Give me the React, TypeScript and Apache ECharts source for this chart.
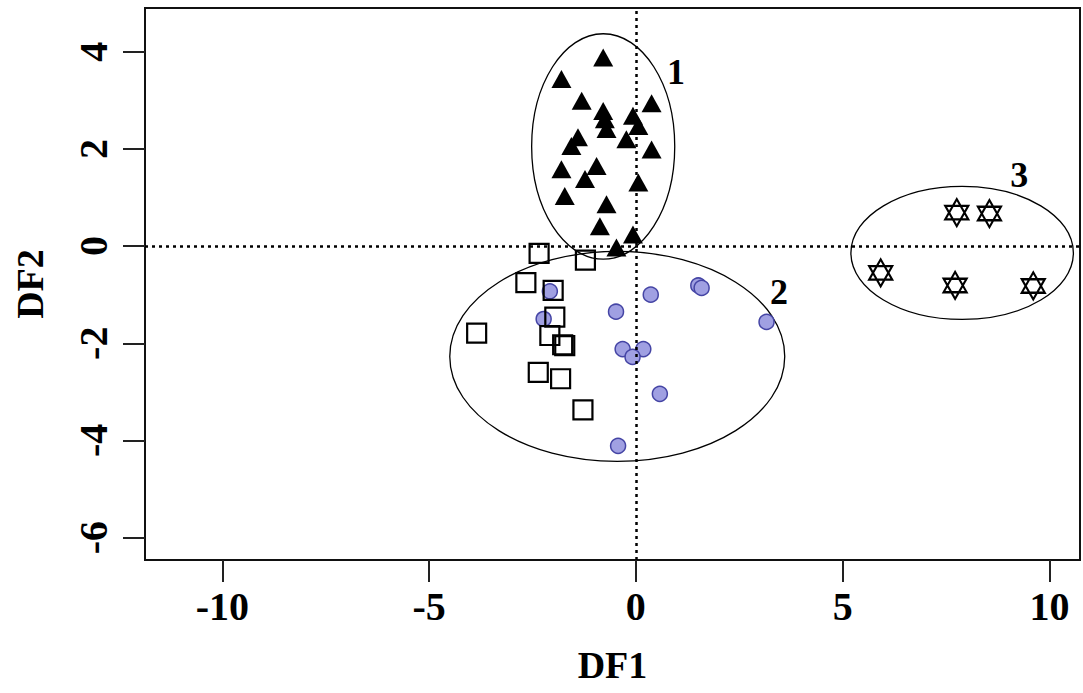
import React, { useEffect, useRef } from "react";
import * as echarts from "echarts";

// Group A (triangles) : [DF1, DF2]
const groupTriangles: number[][] = [
  [-0.79, 3.88], [-1.8, 3.44], [0.38, 2.94], [-1.31, 2.99], [-0.79, 2.78],
  [-0.75, 2.61], [-0.71, 2.41], [-0.07, 2.68], [0.06, 2.47], [-0.23, 2.2],
  [-1.4, 2.24], [-1.56, 2.06], [0.38, 1.99], [-1.8, 1.58], [-0.95, 1.65],
  [-1.23, 1.38], [0.06, 1.31], [-1.72, 1.03], [-0.71, 0.86], [-0.87, 0.41],
  [-0.07, 0.24], [-0.47, -0.03],
];
// Group B (open squares)
const groupSquares: number[][] = [
  [-2.34, -0.15], [-1.22, -0.29], [-2.66, -0.75], [-2.0, -0.91], [-3.85, -1.79],
  [-1.96, -1.46], [-2.08, -1.84], [-1.72, -2.05], [-1.77, -2.03], [-2.36, -2.6],
  [-1.82, -2.73], [-1.28, -3.37],
];
// Group C (blue circles)
const groupCircles: number[][] = [
  [-2.08, -0.93], [-2.23, -1.5], [0.36, -1.0], [-0.48, -1.35], [1.51, -0.81],
  [1.59, -0.86], [3.16, -1.56], [-0.32, -2.12], [0.18, -2.12], [-0.08, -2.28],
  [0.58, -3.04], [-0.43, -4.11],
];
// Group D (hexagram stars)
const groupStars: number[][] = [
  [7.76, 0.69], [8.55, 0.67], [5.92, -0.55], [7.72, -0.81], [9.61, -0.82],
];
// Cluster ellipses: [centerDF1, centerDF2, radiusDF1, radiusDF2]
const clusterEllipses: number[][] = [
  [-0.79, 2.05, 1.73, 2.32],
  [-0.45, -2.27, 4.05, 2.16],
  [7.89, -0.14, 2.69, 1.37],
];
// Cluster labels
const clusterLabels: { name: string; value: number[] }[] = [
  { name: "1", value: [0.97, 3.58] },
  { name: "2", value: [3.46, -0.95] },
  { name: "3", value: [9.27, 1.46] },
];
const xTicks = [-10, -5, 0, 5, 10];
const yTicks = [-6, -4, -2, 0, 2, 4];
const xName = "DF1";
const yName = "DF2";

const FONT = "'Liberation Serif', 'Times New Roman', serif";
const hexagram =
  "path://M50 0 L93.3 75 L6.7 75 Z M50 100 L93.3 25 L6.7 25 Z";

export default function App() {
  const ref = useRef<HTMLDivElement>(null);
  useEffect(() => {
    if (!ref.current) return;
    const chart = echarts.init(ref.current, undefined, { renderer: "svg" });
    chart.setOption({
      animation: false,
      backgroundColor: "#fff",
      grid: {
        left: 145,
        right: 3,
        top: 8,
        bottom: 133,
        show: true,
        borderColor: "#111",
        borderWidth: 2,
        backgroundColor: "transparent",
      },
      xAxis: {
        type: "value",
        min: -11.87,
        max: 10.74,
        name: xName,
        nameLocation: "middle",
        nameGap: 86,
        nameTextStyle: { fontFamily: FONT, fontWeight: "bold", fontSize: 38, color: "#000" },
        splitLine: { show: false },
        axisLine: { show: false, onZero: false },
        axisTick: {
          show: true,
          length: 22,
          customValues: xTicks,
          lineStyle: { color: "#222", width: 2 },
        },
        axisLabel: {
          customValues: xTicks,
          fontFamily: FONT,
          fontWeight: "bold",
          fontSize: 40,
          color: "#000",
          margin: 26,
        },
      },
      yAxis: {
        type: "value",
        min: -6.46,
        max: 4.9,
        name: yName,
        nameLocation: "middle",
        nameGap: 96,
        nameRotate: 90,
        nameTextStyle: { fontFamily: FONT, fontWeight: "bold", fontSize: 38, color: "#000" },
        splitLine: { show: false },
        axisLine: { show: false, onZero: false },
        axisTick: {
          show: true,
          length: 22,
          customValues: yTicks,
          lineStyle: { color: "#222", width: 2 },
        },
        axisLabel: {
          customValues: yTicks,
          rotate: 90,
          fontFamily: FONT,
          fontWeight: "bold",
          fontSize: 40,
          color: "#000",
          margin: 32,
        },
      },
      series: [
        {
          type: "custom",
          name: "clusters",
          z: 1,
          data: clusterEllipses,
          renderItem: (params: any, api: any) => {
            const c = api.coord([api.value(0), api.value(1)]);
            const s = api.size([api.value(2), api.value(3)]);
            return {
              type: "ellipse",
              shape: { cx: c[0], cy: c[1], rx: s[0], ry: s[1] },
              style: { fill: "none", stroke: "#000", lineWidth: 1.3 },
            };
          },
          markLine: {
            silent: true,
            symbol: "none",
            label: { show: false },
            lineStyle: { type: [3, 4], color: "#000", width: 2.5, opacity: 1 },
            data: [{ xAxis: 0 }, { yAxis: 0 }],
          },
        },
        {
          type: "scatter",
          name: "triangles",
          data: groupTriangles,
          symbol: "triangle",
          symbolSize: [20, 18],
          itemStyle: { color: "#000", opacity: 1 },
          z: 3,
        },
        {
          type: "scatter",
          name: "circles",
          data: groupCircles,
          symbol: "circle",
          symbolSize: 15,
          itemStyle: { color: "#a0a0e2", borderColor: "#4545a5", borderWidth: 1.5, opacity: 1 },
          z: 3,
        },
        {
          type: "scatter",
          name: "squares",
          data: groupSquares,
          symbol: "rect",
          symbolSize: 19,
          itemStyle: { color: "rgba(255,255,255,0)", borderColor: "#000", borderWidth: 2.2, opacity: 1 },
          z: 4,
        },
        {
          type: "scatter",
          name: "stars",
          data: groupStars,
          symbol: hexagram,
          symbolSize: [23, 27],
          itemStyle: { color: "rgba(255,255,255,0.6)", borderColor: "#000", borderWidth: 2.2, opacity: 1 },
          z: 4,
        },
        {
          type: "scatter",
          name: "labels",
          data: clusterLabels,
          symbolSize: 0,
          z: 5,
          itemStyle: { opacity: 1 },
          label: {
            show: true,
            position: "inside",
            formatter: (p: any) => p.name,
            fontFamily: FONT,
            fontWeight: "bold",
            fontSize: 36,
            color: "#000",
            opacity: 1,
          },
        },
      ],
    });
    return () => chart.dispose();
  }, []);
  return (
    <div
      ref={ref}
      style={{ position: "absolute", left: 0, top: 0, width: 1083, height: 693, background: "#fff" }}
    />
  );
}
